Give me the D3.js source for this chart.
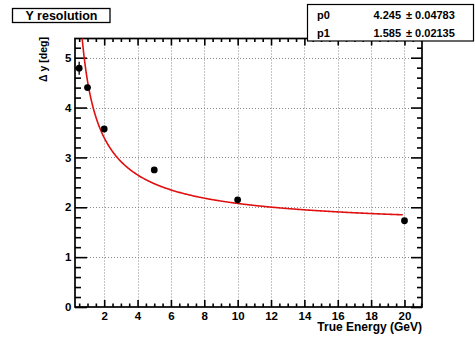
<!DOCTYPE html>
<html>
<head>
<meta charset="utf-8">
<script src="https://cdn.jsdelivr.net/npm/d3@7"></script>
<style>
  body { margin: 0; background: #fff; }
  svg text { font-family: "Liberation Sans", Arial, sans-serif; font-weight: bold; fill: #000; }
</style>
</head>
<body>
<div class="chart_view"></div>
<script>
// measured points
var energy = [0.5, 1, 2, 5, 10, 20];
var resolution = [4.79, 4.40, 3.57, 2.75, 2.15, 1.73];
var resolution_err = [0.13, 0.06, 0.03, 0.03, 0.03, 0.03];
// fit parameters, sigma = sqrt(p0^2/E + p1^2)
var par_names = ["p0", "p1"];
var par_values = ["4.245", "1.585"];
var par_errors = ["0.04783", "0.02135"];
var p0 = 4.245, p1 = 1.585;
var x_ticks = [2, 4, 6, 8, 10, 12, 14, 16, 18, 20];
var y_ticks = [0, 1, 2, 3, 4, 5];

var width = 475, height = 337;
var frame = { left: 75, right: 422, top: 38.5, bottom: 307 };

var svg = d3
  .select(".chart_view")
  .append("svg")
  .attr("width", width)
  .attr("height", height);

var x = d3.scaleLinear().domain([0.25, 21.05]).range([frame.left, frame.right]);
var y = d3.scaleLinear().domain([0, 5.385]).range([frame.bottom, frame.top]);

// grid
var grid = svg.append("g")
  .attr("stroke", "#8a8a8a")
  .attr("stroke-width", 1)
  .attr("stroke-dasharray", "1,2");
grid.selectAll(".gx").data(x_ticks).enter().append("line")
  .attr("x1", function (d) { return Math.round(x(d)) + 0.5; })
  .attr("x2", function (d) { return Math.round(x(d)) + 0.5; })
  .attr("y1", frame.top).attr("y2", frame.bottom);
grid.selectAll(".gy").data(y_ticks.slice(1)).enter().append("line")
  .attr("y1", function (d) { return Math.round(y(d)) + 0.5; })
  .attr("y2", function (d) { return Math.round(y(d)) + 0.5; })
  .attr("x1", frame.left).attr("x2", frame.right);

// axes (ROOT style ticks inside the frame)
var x_minor = d3.range(0.5, 21.01, 0.5).filter(function (d) { return d % 2 !== 0; });
var y_minor = d3.range(0.2, 5.385, 0.2).filter(function (d) { return Math.abs(d - Math.round(d)) > 0.01; });

svg.append("g")
  .attr("transform", "translate(0," + frame.bottom + ")")
  .call(d3.axisBottom(x).tickValues(x_minor).tickSize(-3.5).tickFormat(""));
svg.append("g")
  .attr("transform", "translate(0," + frame.bottom + ")")
  .call(d3.axisBottom(x).tickValues(x_ticks).tickSize(-7).tickPadding(4.5).tickFormat(d3.format("d")))
  .attr("class", "xaxis");
svg.append("g")
  .attr("transform", "translate(0," + frame.top + ")")
  .call(d3.axisTop(x).tickValues(x_minor).tickSize(-3.5).tickFormat(""));
svg.append("g")
  .attr("transform", "translate(0," + frame.top + ")")
  .call(d3.axisTop(x).tickValues(x_ticks).tickSize(-7).tickFormat(""));

svg.append("g")
  .attr("transform", "translate(" + frame.left + ",0)")
  .call(d3.axisLeft(y).tickValues(y_minor).tickSize(-6).tickFormat(""));
svg.append("g")
  .attr("transform", "translate(" + frame.left + ",0)")
  .call(d3.axisLeft(y).tickValues(y_ticks).tickSize(-12).tickPadding(3.5).tickFormat(d3.format("d")))
  .attr("class", "yaxis");
svg.append("g")
  .attr("transform", "translate(" + frame.right + ",0)")
  .call(d3.axisRight(y).tickValues(y_minor).tickSize(-5).tickFormat(""));
svg.append("g")
  .attr("transform", "translate(" + frame.right + ",0)")
  .call(d3.axisRight(y).tickValues(y_ticks).tickSize(-11).tickFormat(""));

svg.selectAll(".domain").remove();
svg.selectAll(".tick line").attr("stroke", "#000").attr("stroke-width", 1.6);
svg.selectAll(".xaxis text, .yaxis text")
  .style("font-size", "11.5px")
  .style("font-family", "Liberation Sans, Arial, sans-serif")
  .style("font-weight", "bold")
  .attr("fill", "#000");

svg.append("rect")
  .attr("x", frame.left).attr("y", frame.top)
  .attr("width", frame.right - frame.left)
  .attr("height", frame.bottom - frame.top)
  .attr("fill", "none")
  .attr("stroke", "#000")
  .attr("stroke-width", 1.7);

// axis titles
svg.append("text")
  .attr("x", frame.right).attr("y", 331.3)
  .attr("text-anchor", "end")
  .style("font-size", "12px")
  .text("True Energy (GeV)");
svg.append("text")
  .attr("transform", "translate(47,37) rotate(-90)")
  .attr("text-anchor", "end")
  .style("font-size", "10.5px")
  .text("\u0394 y [deg]");

// fit curve
svg.append("clipPath").attr("id", "frame_clip")
  .append("rect")
  .attr("x", frame.left).attr("y", frame.top)
  .attr("width", frame.right - frame.left)
  .attr("height", frame.bottom - frame.top);

var fit_x = d3.range(0.5, 19.95, 0.05);
var line = d3.line()
  .x(function (d) { return x(d); })
  .y(function (d) { return y(Math.sqrt(p0 * p0 / d + p1 * p1)); });
svg.append("path")
  .datum(fit_x)
  .attr("clip-path", "url(#frame_clip)")
  .attr("d", line)
  .attr("fill", "none")
  .attr("stroke", "#e01010")
  .attr("stroke-width", 1.6);

// points with error bars
var pts = svg.append("g");
pts.selectAll(".err").data(energy).enter().append("line")
  .attr("x1", function (d) { return x(d); })
  .attr("x2", function (d) { return x(d); })
  .attr("y1", function (d, i) { return y(resolution[i] - resolution_err[i]); })
  .attr("y2", function (d, i) { return y(resolution[i] + resolution_err[i]); })
  .attr("stroke", "#000")
  .attr("stroke-width", 1.3);
pts.selectAll(".pt").data(energy).enter().append("circle")
  .attr("cx", function (d) { return x(d); })
  .attr("cy", function (d, i) { return y(resolution[i]); })
  .attr("r", 3.4)
  .attr("fill", "#000");

// title box
svg.append("rect")
  .attr("x", 12.5).attr("y", 8.5).attr("width", 97.5).attr("height", 14)
  .attr("fill", "#fff").attr("stroke", "#000").attr("stroke-width", 1.3);
svg.append("text")
  .attr("x", 61.5).attr("y", 20)
  .attr("text-anchor", "middle")
  .style("font-size", "12.5px")
  .text("Y resolution");

// stats box
svg.append("rect")
  .attr("x", 307.5).attr("y", 4.5).attr("width", 166).attr("height", 36.5)
  .attr("fill", "#fff").attr("stroke", "#000").attr("stroke-width", 1.2);
var rows = svg.selectAll(".par").data(par_names).enter().append("g")
  .attr("transform", function (d, i) { return "translate(0," + (19 + i * 18) + ")"; });
rows.append("text").attr("x", 317).style("font-size", "11px").text(function (d) { return d; });
rows.append("text").attr("x", 401).attr("text-anchor", "end").style("font-size", "11px")
  .text(function (d, i) { return par_values[i]; });
rows.append("text").attr("x", 406).style("font-size", "11px")
  .text(function (d, i) { return "\u00b1 " + par_errors[i]; });
</script>
</body>
</html>
